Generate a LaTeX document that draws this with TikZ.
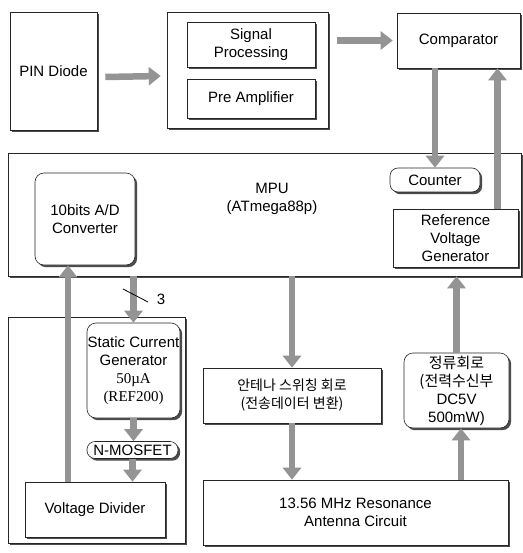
\documentclass[tikz,border=0pt]{standalone}
\usepackage{fontspec}
\setsansfont{Liberation Sans}
\newfontfamily\serifrm{Liberation Serif}
\newfontfamily\kor{Noto Sans CJK KR}
\usetikzlibrary{arrows.meta,calc}

\tikzset{
  blk/.style={draw=black!85, fill=white, line width=0.6pt, inner sep=0pt, align=center,
    font=\sffamily\fontsize{15}{18}\selectfont,
    preaction={fill=black!70, transform canvas={xshift=2.2pt, yshift=-2.2pt}}},
  rblk/.style={blk, rounded corners=9pt},
  pill/.style={blk, rounded corners=8pt},
  korfont/.style={font=\kor\fontsize{14}{18}\selectfont},
  fat/.style={line width=6.5pt, draw=black!42, -{Triangle[width=18pt,length=12pt]}},
}

\begin{document}
\begin{tikzpicture}[x=1pt,y=-1pt]
    \useasboundingbox (0,0) rectangle (522,553);
    % top row
    \node[blk, minimum width=87pt, minimum height=118pt] (pin) at (53.5,71) {PIN Diode};
    \node[blk, minimum width=161pt, minimum height=116pt] (sigouter) at (247.5,70) {};
    \node[blk, minimum width=128pt, minimum height=45pt] (sig) at (251,44.5) {Signal\\Processing};
    \node[blk, minimum width=128pt, minimum height=39pt] (pre) at (251,98.5) {Pre Amplifier};
    \node[blk, minimum width=123pt, minimum height=55pt] (comp) at (458.5,40.5) {Comparator};
    %
    % MPU
    \node[blk, minimum width=513pt, minimum height=123pt] (mpu) at (264.5,214.5) {};
    \node[align=center, font=\sffamily\fontsize{15}{18}\selectfont] (mpulbl) at (272,199) {MPU\\(ATmega88p)};
    \node[rblk, minimum width=100pt, minimum height=92pt] (adc) at (85,219) {10bits A/D\\Converter};
    \node[pill, minimum width=90pt, minimum height=24pt] (counter) at (435,180) {Counter};
    \node[blk, minimum width=125pt, minimum height=58pt] (refv) at (455.5,238) {Reference\\Voltage\\Generator};
    %
    % bottom left
    \node[blk, minimum width=177pt, minimum height=226pt] (leftouter) at (96.5,430) {};
    \node[rblk, minimum width=93pt, minimum height=95pt] (scg) at (133.5,370.5)
      {Static Current\\Generator\\{\serifrm 50µA}\\{\serifrm (REF200)}};
    \node[pill, minimum width=91pt, minimum height=17pt] (nmos) at (132.5,450) {N-MOSFET};
    \node[blk, minimum width=140pt, minimum height=55pt] (vdiv) at (95,509.5) {Voltage Divider};
    %
    % bottom right
    \node[blk, korfont, minimum width=178pt, minimum height=55pt] (ant) at (292,395.5)
      {안테나 스위칭 회로\\(전송데이터 변환)};
    \node[rblk, minimum width=105pt, minimum height=75pt] (rect) at (456.5,390.5)
      {{\kor 정류회로}\\{\kor (전력수신부}\\DC5V\\500mW)};
    \node[blk, minimum width=305pt, minimum height=65pt] (res) at (355.5,512.5)
      {13.56 MHz Resonance\\Antenna Circuit};
    %
    % arrows
    \draw[fat] ($(pin.east)+(8,6)$) -- ($(sigouter.west)+(-6,6)$);
    \draw[fat] ($(sigouter.east|-comp.west)+(9,0)$) -- ($(comp.west)+(-4,0)$);
    \draw[fat] (comp.south-|counter.north) -- (counter.north);
    \draw[fat] ($(refv.north)+(42,0)$) -- ($(refv.north|-comp.south)+(42,0)$);
    \draw[fat] (mpu.south-|scg.north) -- (scg.north);
    \draw[fat] (scg.south) -- (scg.south|-nmos.north);
    \draw[fat] (nmos.south) -- (nmos.south|-vdiv.north);
    \draw[fat] ($(adc.south|-vdiv.north)+(-17,0)$) -- ($(adc.south)+(-17,0)$);
    \draw[fat] (mpu.south-|ant.north) -- (ant.north);
    \draw[fat] (ant.south) -- (ant.south|-res.north);
    \draw[fat] ($(rect.south|-res.north)+(4.5,0)$) -- ($(rect.south)+(4.5,0)$);
    \draw[fat] (rect.north) -- (rect.north|-mpu.south);
    %
    % bus width mark
    \coordinate (sla) at (123,289);
    \coordinate (slb) at (148,302);
    \draw[line width=0.8pt] (sla) -- (slb);
    \node[font=\sffamily\fontsize{15}{18}\selectfont] (three) at (161,299) {3};
\end{tikzpicture}
\end{document}
